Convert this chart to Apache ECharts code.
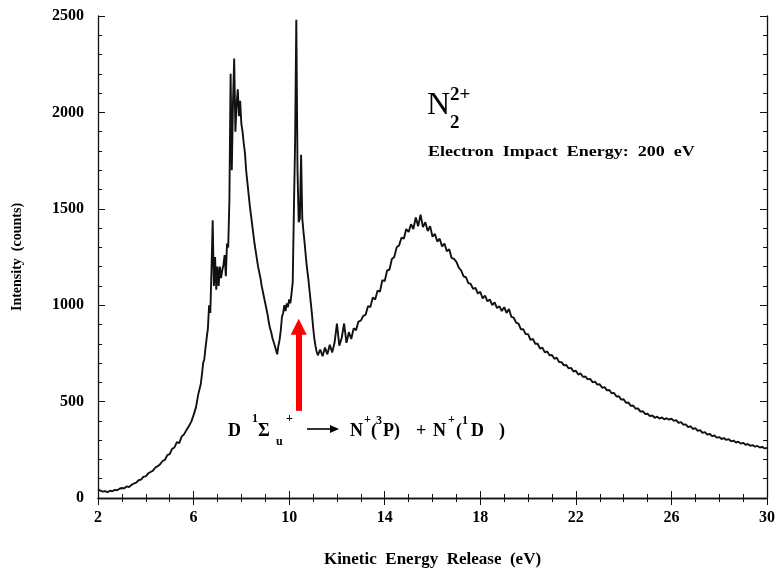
<!DOCTYPE html>
<html><head><meta charset="utf-8">
<script src="https://cdn.jsdelivr.net/npm/echarts@6/dist/echarts.min.js"></script>
<style>html,body{margin:0;padding:0;background:#fff}#c{width:780px;height:573px}</style>
</head><body><div id="c"></div>
<script>
// ---- data ----
const xMin = 2, xMax = 30, xStep = 4;
const yMin = 0, yMax = 2500, yStep = 500;

// low-energy rise, sampled every 0.1 eV from 2.0 eV
const lowStart = 2.0, lowStep = 0.1;
const lowCounts = [45,38,33,36,30,38,35,42,40,48,52,50,60,57,68,75,80,92,95,110,
  112,128,135,142,158,165,175,192,198,222,228,255,262,290,285,318,330,352,372,395,
  430,470,540,590];

// sharp-peak region, sampled every 0.05 eV from 6.35 eV
const peakStart = 6.35, peakStep = 0.05;
const peakCounts = [640,700,720,780,830,880,1000,960,1180,1440,1100,1250,1080,1200,1100,1200,1140,1180,1210,1260,
  1150,1320,1300,1550,2200,1700,2050,2280,1900,2040,2120,1980,2060,1940,1900,1840,1790,1700,1640,1580,
  1520,1470,1420,1370,1320,1280,1240,1200,1170,1140,1100,1070,1040,1010,980,950,910,880,860,830,
  820,790,780,745,790,820,870,940,960,1000,970,1010,990,1030,1010,1060,1120,1500,1850,2480,
  1700,1430,1450,1780,1450,1380,1320,1250,1190,1140,1080,1020,960,890,830,790,760,740];

// broad hump and tail, sampled every 0.1 eV from 11.3 eV
const tailStart = 11.3, tailStep = 0.1;
const tailCounts = [770,735,780,745,795,755,805,905,790,830,905,805,860,825,880,870,915,920,945,950,
  995,990,1040,1030,1075,1070,1130,1125,1180,1185,1240,1250,1300,1310,1350,1345,1395,1380,1420,1395,
  1455,1410,1470,1405,1430,1385,1410,1355,1370,1330,1345,1305,1320,1280,1290,1245,1240,1225,1195,1180,
  1150,1145,1115,1110,1085,1090,1060,1070,1035,1050,1020,1030,1000,1015,985,995,970,990,960,980,
  940,935,910,905,875,875,850,850,820,825,800,800,775,780,755,760,740,742,722,728,
  705,705,688,690,672,675,656,660,640,646,628,630,615,618,600,604,588,590,572,575,
  558,560,543,545,526,528,510,512,494,495,478,480,463,465,448,450,436,437,425,428,
  416,422,412,418,408,414,406,412,400,404,390,394,380,382,368,372,358,362,348,352,
  338,342,329,333,321,324,313,316,306,311,301,305,294,298,288,292,282,286,276,280,
  271,274,266,270,262,265,257,260];

// red arrow marking the D state (energy, counts from → to)
const arrowEnergy = 10.4, arrowFromCounts = 452, arrowToCounts = 888;

// ---- build points ----
const points = [];
function addSeg(start, step, arr) {
  arr.forEach((c, i) => points.push([+(start + i * step).toFixed(2), c]));
}
addSeg(lowStart, lowStep, lowCounts);
addSeg(peakStart, peakStep, peakCounts);
addSeg(tailStart, tailStep, tailCounts);

const SERIF = '"Liberation Serif", "Times New Roman", serif';
const axisCommon = {
  type: 'value',
  axisLine: { show: true, lineStyle: { color: '#111', width: 1.3 } },
  axisTick: { show: true, inside: true, length: 7, lineStyle: { color: '#111', width: 1 } },
  minorTick: { show: true, length: 4, lineStyle: { color: '#111', width: 1 } },
  splitLine: { show: false },
  minorSplitLine: { show: false }
};
const labelStyle = { color: '#000', fontFamily: SERIF, fontSize: 16, fontWeight: 'bold',
  formatter: function (v) { return String(v); } };

function txt(x, y, text, size, weight, extra) {
  return Object.assign({
    type: 'text', x: x, y: y, silent: true,
    style: { text: text, fill: '#000', font: (weight || 'bold') + ' ' + size + 'px ' + SERIF,
             align: 'left', verticalAlign: 'middle' }
  }, extra || {});
}

const chart = echarts.init(document.getElementById('c'), null, { renderer: 'canvas' });
chart.setOption({
  animation: false,
  backgroundColor: '#fff',
  grid: { left: 98, right: 13, top: 16, bottom: 70, containLabel: false },
  xAxis: [
    Object.assign({}, axisCommon, {
      min: xMin, max: xMax, interval: xStep, position: 'bottom',
      minorTick: Object.assign({}, axisCommon.minorTick, { splitNumber: 4 }),
      axisLabel: Object.assign({ margin: 12 }, labelStyle),
      name: 'Kinetic  Energy  Release  (eV)', nameLocation: 'middle', nameGap: 53,
      nameTextStyle: { color: '#000', fontFamily: SERIF, fontSize: 17, fontWeight: 'bold' }
    }),
    Object.assign({}, axisCommon, {
      min: xMin, max: xMax, interval: xStep, position: 'top',
      minorTick: Object.assign({}, axisCommon.minorTick, { splitNumber: 4 }),
      axisLabel: { show: false }
    })
  ],
  yAxis: [
    Object.assign({}, axisCommon, {
      min: yMin, max: yMax, interval: yStep, position: 'left',
      minorTick: Object.assign({}, axisCommon.minorTick, { splitNumber: 5 }),
      axisLabel: Object.assign({ margin: 14 }, labelStyle),
      name: 'Intensity  (counts)', nameLocation: 'middle', nameGap: 74, nameRotate: 90,
      nameTextStyle: { color: '#000', fontFamily: SERIF, fontSize: 14, fontWeight: 'bold' }
    }),
    Object.assign({}, axisCommon, {
      min: yMin, max: yMax, interval: yStep, position: 'right',
      minorTick: Object.assign({}, axisCommon.minorTick, { splitNumber: 5 }),
      axisLabel: { show: false }
    })
  ],
  series: [{
    type: 'line', data: points, xAxisIndex: 0, yAxisIndex: 0,
    showSymbol: false, symbol: 'none', smooth: false,
    lineStyle: { color: '#111', width: 1.9 },
    markLine: {
      silent: true, animation: false,
      symbol: ['none', 'triangle'], symbolSize: [16, 16],
      label: { show: false },
      lineStyle: { color: '#ff0000', width: 6, type: 'solid', opacity: 1 },
      itemStyle: { color: '#ff0000' },
      emphasis: { disabled: true },
      data: [[{ coord: [arrowEnergy, arrowFromCounts] }, { coord: [arrowEnergy, arrowToCounts] }]]
    }
  }],
  graphic: [
    txt(427, 106, 'N', 32, 'normal'),
    txt(450, 95, '2+', 19, 'bold'),
    txt(450, 123, '2', 19, 'bold'),
    txt(428, 152, 'Electron  Impact  Energy:  200  eV', 15, 'bold', { scaleX: 1.2 }),
    // D 1Σu+ → N+(3P) + N+(1D)
    txt(228, 431, 'D', 18),
    txt(252, 419, '1', 12),
    txt(258, 431, 'Σ', 18),
    txt(276, 442, 'u', 12),
    txt(286, 419, '+', 12),
    { type: 'line', silent: true, shape: { x1: 307, y1: 429, x2: 333, y2: 429 }, style: { stroke: '#000', lineWidth: 1.6 } },
    { type: 'polygon', silent: true, shape: { points: [[330, 425], [339, 429], [330, 433]] }, style: { fill: '#000' } },
    txt(350, 431, 'N', 18),
    txt(364, 420, '+', 12),
    txt(371, 431, '(', 18),
    txt(376, 421, '3', 12),
    txt(383, 431, 'P)', 18),
    txt(416, 431, '+', 18),
    txt(433, 431, 'N', 18),
    txt(448, 420, '+', 12),
    txt(456, 431, '(', 18),
    txt(462, 421, '1', 12),
    txt(471, 431, 'D', 18),
    txt(499, 431, ')', 18)
  ]
});
</script>
</body></html>
